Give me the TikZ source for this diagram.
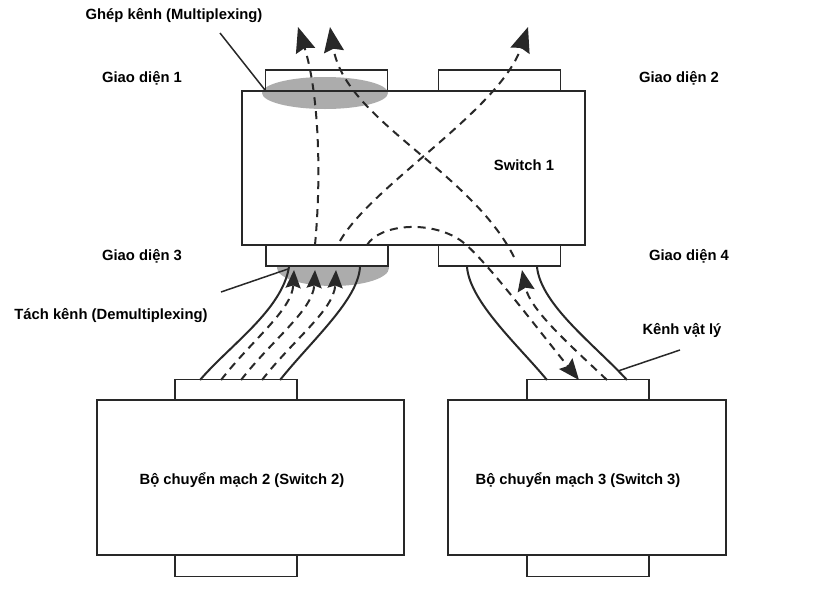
\documentclass[tikz,border=0pt]{standalone}
\usepackage{fontspec}
\setmainfont{Liberation Sans}
\usetikzlibrary{arrows.meta,shapes.geometric}
\definecolor{ink}{RGB}{40,40,40}
\definecolor{shade}{RGB}{172,172,172}
\begin{document}
\begin{tikzpicture}[x=1pt,y=-1pt,
  box/.style={draw=ink, line width=1.8pt, inner sep=0pt, outer sep=0pt},
  portbox/.style={box, minimum width=122pt, minimum height=21pt},
  lbl/.style={font=\fontsize{14.8}{17}\selectfont\bfseries, text=black, inner sep=0pt, anchor=base},
  lead/.style={draw=ink, line width=1.5pt},
  chan/.style={draw=ink, line width=2pt},
  flow/.style={draw=ink, line width=2pt, dash pattern=on 8pt off 6pt},
  bigtip/.style={-{Stealth[length=25pt,width=20pt,inset=3pt]}},
  midtip/.style={-{Stealth[length=21pt,width=17pt,inset=3pt]}},
  smalltip/.style={-{Stealth[length=18pt,width=15pt,inset=2.5pt]}},
  blob/.style={ellipse, fill=shade, draw=none, inner sep=0pt}
]
\useasboundingbox (0,0) rectangle (825,592);

% shaded multiplexing / demultiplexing areas
\node[blob, minimum width=126pt, minimum height=32pt] (mux) at (325,93) {};
\node[blob, minimum width=112pt, minimum height=36pt] (demux) at (333,268) {};

% Switch 1 and its ports
\node[box, minimum width=343pt, minimum height=154pt] (sw1) at (413.5,168) {};
\node[portbox] (p1) at (326.5,80.5) {};
\node[portbox] (p2) at (499.5,80.5) {};
\node[portbox, fill=white, minimum width=122pt] (p3) at (327,255.5) {};
\node[portbox] (p4) at (499.5,255.5) {};

% Switch 2
\node[box, minimum width=307pt, minimum height=155pt] (sw2) at (250.5,477.5) {};
\node[portbox] (s2t) at (236,390) {};
\node[portbox] (s2b) at (236,566) {};

% Switch 3
\node[box, minimum width=278pt, minimum height=155pt] (sw3) at (587,477.5) {};
\node[portbox] (s3t) at (588,390) {};
\node[portbox] (s3b) at (588,566) {};

% labels
\node[lbl] (tmux) at (174,19) {Ghép kênh (Multiplexing)};
\node[lbl] (tgd1) at (142,82) {Giao diện 1};
\node[lbl] (tgd2) at (679,82) {Giao diện 2};
\node[lbl] (tsw1) at (524,170) {Switch 1};
\node[lbl] (tgd3) at (142,260) {Giao diện 3};
\node[lbl] (tgd4) at (689,260) {Giao diện 4};
\node[lbl] (tdemux) at (111,319) {Tách kênh (Demultiplexing)};
\node[lbl] (tphys) at (682,334) {Kênh vật lý};
\node[lbl] (tsw2) at (242,484) {Bộ chuyển mạch 2 (Switch 2)};
\node[lbl] (tsw3) at (578,484) {Bộ chuyển mạch 3 (Switch 3)};

% leader lines
\coordinate (lm0) at (220,33);
\coordinate (lm1) at (265,90);
\coordinate (ld0) at (221,292);
\coordinate (ld1) at (288,269);
\coordinate (lp0) at (618,371);
\coordinate (lp1) at (680,350);
\draw[lead] (lm0) -- (lm1);
\draw[lead] (ld0) -- (ld1);
\draw[lead] (lp0) -- (lp1);

% physical channel between Switch 2 and Giao dien 3
\coordinate (a0) at (200,380); \coordinate (a1) at (289,267);
\coordinate (b0) at (280,380); \coordinate (b1) at (360,267);
\draw[chan] (a0) .. controls (230,345) and (282,310) .. (a1);
\draw[chan] (b0) .. controls (312,340) and (358,300) .. (b1);

% physical channel between Giao dien 4 and Switch 3
\coordinate (c0) at (467,267); \coordinate (c1) at (547,380);
\coordinate (d0) at (537,267); \coordinate (d1) at (627,380);
\draw[chan] (c0) .. controls (470,302) and (518,345) .. (c1);
\draw[chan] (d0) .. controls (541,305) and (595,345) .. (d1);

% flows in left channel
\coordinate (f0) at (221,380); \coordinate (f0e) at (294,270);
\coordinate (f1) at (241,380); \coordinate (f1e) at (315,270);
\coordinate (f2) at (262,380); \coordinate (f2e) at (336,270);
\draw[flow,smalltip] (f0) .. controls (252,340) and (292,310) .. (f0e);
\draw[flow,smalltip] (f1) .. controls (272,340) and (313,310) .. (f1e);
\draw[flow,smalltip] (f2) .. controls (293,340) and (334,310) .. (f2e);

% flows in right channel
\coordinate (g0) at (607,380); \coordinate (g0e) at (522,270);
\draw[flow,midtip] (g0) .. controls (570,345) and (530,310) .. (g0e);

% flows through Switch 1
\coordinate (hA0) at (315,245); \coordinate (hA1) at (298,27);
\coordinate (hB0) at (340,241); \coordinate (hB1) at (528,27);
\coordinate (hC0) at (514,257); \coordinate (hC1) at (330,27);
\coordinate (hD0) at (367,245); \coordinate (hD1) at (460,240); \coordinate (hD2) at (579,380);
\draw[flow,bigtip] (hA0) .. controls (322,170) and (318,90) .. (hA1);
\draw[flow,bigtip] (hB0) .. controls (372,185) and (500,110) .. (hB1);
\draw[flow,bigtip] (hC0) .. controls (470,170) and (345,120) .. (hC1);
\draw[flow,midtip] (hD0) .. controls (380,224) and (430,220) .. (hD1)
  .. controls (482,255) and (532,322) .. (hD2);
\end{tikzpicture}
\end{document}
